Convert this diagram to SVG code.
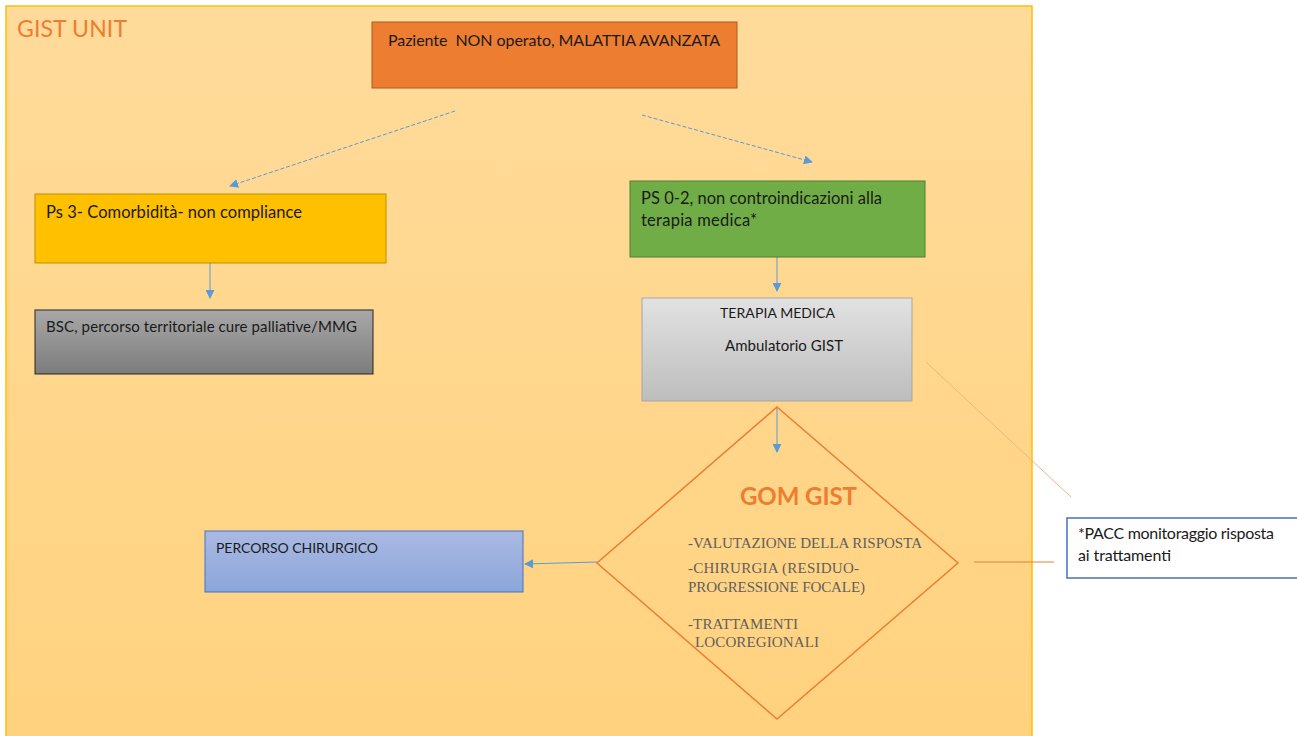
<svg xmlns="http://www.w3.org/2000/svg" width="1297" height="736" viewBox="0 0 1297 736">
<defs>
<linearGradient id="bg" x1="0" y1="0" x2="0" y2="1"><stop offset="0" stop-color="#FFDB9B"/><stop offset="1" stop-color="#FFD27E"/></linearGradient>
<linearGradient id="gray" x1="0" y1="0" x2="0" y2="1"><stop offset="0" stop-color="#A8A8A8"/><stop offset="1" stop-color="#7C7C7C"/></linearGradient>
<linearGradient id="lgray" x1="0" y1="0" x2="0" y2="1"><stop offset="0" stop-color="#E2E2E2"/><stop offset="1" stop-color="#BDBDBD"/></linearGradient>
<linearGradient id="blue" x1="0" y1="0" x2="0" y2="1"><stop offset="0" stop-color="#AAB9E3"/><stop offset="1" stop-color="#8BA6DA"/></linearGradient>
<marker id="ah" viewBox="0 0 10 10" refX="9" refY="5" markerWidth="9" markerHeight="9" markerUnits="userSpaceOnUse" orient="auto"><path d="M0,0 L10,5 L0,10 z" fill="#5B9BD5"/></marker>
<style>
.t{font-family:"Lato","Liberation Sans",sans-serif;font-size:15px;fill:#1a1a1a}
.s{font-family:"Liberation Serif",serif;font-size:15px;fill:#5f5f5f}
.c{stroke:#5B9BD5;stroke-width:1;fill:none}
</style>
</defs>
<rect x="6" y="6" width="1026" height="740" fill="url(#bg)" stroke="#FFC000" stroke-width="1.5"/>
<text x="17" y="37" font-family="Lato,'Liberation Sans',sans-serif" font-size="23" fill="#ED7D31" textLength="110">GIST UNIT</text>
<g id="connectors">
<line class="c" x1="455" y1="111" x2="230" y2="186" stroke-dasharray="4,2" marker-end="url(#ah)"/>
<line class="c" x1="642" y1="115" x2="812" y2="162" stroke-dasharray="4,2" marker-end="url(#ah)"/>
<line class="c" x1="210" y1="263" x2="210" y2="298" marker-end="url(#ah)"/>
<line class="c" x1="777" y1="257" x2="777" y2="291" marker-end="url(#ah)"/>
<line class="c" x1="777" y1="407" x2="777" y2="452" marker-end="url(#ah)"/>
<line class="c" x1="597" y1="562" x2="525" y2="564" marker-end="url(#ah)"/>
<line x1="926" y1="362" x2="1071" y2="497" stroke="#F4B183" stroke-width="1"/>
<line x1="974" y1="562" x2="1054" y2="562" stroke="#ED7D31" stroke-width="1.2"/>
</g>
<g id="n-start">
<rect x="372" y="22" width="365" height="66" fill="#ED7D31" stroke="#AE5A21"/>
<text class="t" x="388" y="46" style="font-size:16px" textLength="332" xml:space="preserve">Paziente  NON operato, MALATTIA AVANZATA</text>
</g>
<g id="n-ps3">
<rect x="35" y="194" width="351" height="69" fill="#FFC000" stroke="#BF9000"/>
<text class="t" x="46" y="218" style="font-size:16.5px" textLength="256">Ps 3- Comorbidità- non compliance</text>
</g>
<g id="n-bsc">
<rect x="35" y="310" width="338" height="64" fill="url(#gray)" stroke="#262626"/>
<text class="t" x="46" y="332" textLength="311">BSC, percorso territoriale cure palliative/MMG</text>
</g>
<g id="n-ps02">
<rect x="630" y="181" width="295" height="76" fill="#70AD47" stroke="#507E32"/>
<text class="t" x="641" y="204" style="font-size:16.5px" textLength="241">PS 0-2, non controindicazioni alla</text>
<text class="t" x="641" y="226" style="font-size:16.5px" textLength="116">terapia medica*</text>
</g>
<g id="n-terapia">
<rect x="642" y="298" width="270" height="103" fill="url(#lgray)" stroke="#A5A5A5"/>
<text class="t" x="720" y="318" style="font-size:14px" textLength="115">TERAPIA MEDICA</text>
<text class="t" x="725" y="351" textLength="118">Ambulatorio GIST</text>
</g>
<g id="n-gom">
<polygon points="777,407 958,563 777,719 597,563" fill="none" stroke="#ED7D31" stroke-width="1.5"/>
<text x="740" y="505" font-family="Lato,'Liberation Sans',sans-serif" font-size="24" font-weight="bold" fill="#ED7D31" textLength="117">GOM GIST</text>
<text class="s" x="688" y="548" textLength="234">-VALUTAZIONE DELLA RISPOSTA</text>
<text class="s" x="688" y="573" textLength="171">-CHIRURGIA (RESIDUO-</text>
<text class="s" x="688" y="592" textLength="177">PROGRESSIONE FOCALE)</text>
<text class="s" x="688" y="629" textLength="110">-TRATTAMENTI</text>
<text class="s" x="695" y="647" textLength="124">LOCOREGIONALI</text>
</g>
<g id="n-chir">
<rect x="205" y="531" width="318" height="61" fill="url(#blue)" stroke="#4472C4"/>
<text class="t" x="216" y="553" style="font-size:14px" textLength="162">PERCORSO CHIRURGICO</text>
</g>
<g id="n-pacc">
<rect x="1067" y="518" width="232" height="60" fill="#FFFFFF" stroke="#4472C4" stroke-width="1.5"/>
<text class="t" x="1078" y="539" style="font-size:16px" textLength="196">*PACC monitoraggio risposta</text>
<text class="t" x="1078" y="561" style="font-size:16px" textLength="93">ai trattamenti</text>
</g>
</svg>
